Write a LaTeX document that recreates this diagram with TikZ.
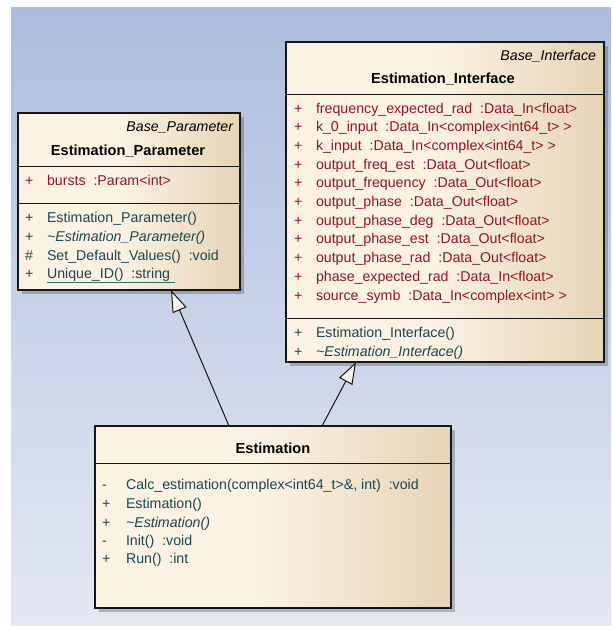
\documentclass[tikz,border=0pt]{standalone}
\usepackage{fontspec}
\setmainfont{Liberation Sans}
\usetikzlibrary{arrows.meta,shadows,calc}

\definecolor{bgtop}{RGB}{174,189,222}
\definecolor{bgbot}{RGB}{228,232,243}
\definecolor{boxL}{RGB}{251,242,228}
\definecolor{boxR}{RGB}{231,212,183}
\definecolor{attrred}{RGB}{150,22,32}
\definecolor{methteal}{RGB}{28,70,80}
\definecolor{ulgreen}{RGB}{45,112,98}
\definecolor{edgecol}{RGB}{22,22,22}
\definecolor{tipfill}{RGB}{250,246,238}

% light cream over most of the width, warming to tan at the right edge
\pgfdeclarehorizontalshading{classfill}{100bp}{%
  color(0bp)=(boxL); color(25bp)=(boxL); color(48bp)=(boxL);
  color(75bp)=(boxR); color(100bp)=(boxR)}

\tikzset{
  classbox/.style={draw=edgecol, line width=1.3pt, shading=classfill,
    inner sep=0pt, outer sep=0pt,
    drop shadow={shadow xshift=4pt, shadow yshift=-4pt, fill=black, opacity=0.22}},
  divider/.style={draw=edgecol, line width=1pt},
  txt/.style={inner sep=0pt, outer sep=0pt, font=\fontsize{14.2}{16}\selectfont},
  attr/.style={txt, anchor=base west, text=attrred},
  meth/.style={txt, anchor=base west, text=methteal},
  title/.style={txt, anchor=base, font=\fontsize{14.6}{16}\selectfont\bfseries},
  stereo/.style={txt, anchor=base east, font=\fontsize{14.2}{16}\selectfont\itshape},
  gen/.style={draw=edgecol, line width=1pt,
    -{Triangle[length=22pt, width=15pt, fill=tipfill, line width=1pt]}}
}

\begin{document}
\begin{tikzpicture}[x=1pt, y=-1pt]
  \useasboundingbox (0,0) rectangle (611,626);
  \fill[white] (0,0) rectangle (611,626);
  % diagram canvas
  \shade[top color=bgtop, bottom color=bgbot] (11,8) rectangle (611,626);

  % ---------- Estimation_Parameter ----------
  \node[classbox, minimum width=222pt, minimum height=177pt] (param) at (129,201.5) {};
  \draw[divider] ($(param.north west)+(0,53)$) -- ($(param.north east)+(0,53)$);
  \draw[divider] ($(param.north west)+(0,90)$) -- ($(param.north east)+(0,90)$);
  \node[stereo] (pst) at (233,131) {Base\_Parameter};
  \node[title] (pti) at (128,155) {Estimation\_Parameter};
  \node[attr] (pam1) at (25,185) {+};
  \node[attr] (pa1) at (47,185) {bursts\ \ :Param<int>};
  \node[meth] (pmm1) at (25,222) {+};
  \node[meth] (pm1) at (47,222) {Estimation\_Parameter()};
  \node[meth] (pmm2) at (25,241) {+};
  \node[meth] (pm2) at (47,241) {\itshape\textasciitilde Estimation\_Parameter()};
  \node[meth] (pmm3) at (25,260) {\#};
  \node[meth] (pm3) at (47,260) {Set\_Default\_Values()\ \ :void};
  \node[meth] (pmm4) at (25,278) {+};
  \node[meth] (pm4) at (47,278) {Unique\_ID()\ \ :string};
  \draw[ulgreen, line width=1pt] ($(pm4.base west)+(0,4.5)$) -- ($(pm4.base east)+(5,4.5)$);

  % ---------- Estimation_Interface ----------
  \node[classbox, minimum width=318pt, minimum height=320pt] (iface) at (445,202) {};
  \draw[divider] ($(iface.north west)+(0,52)$) -- ($(iface.north east)+(0,52)$);
  \draw[divider] ($(iface.north west)+(0,276)$) -- ($(iface.north east)+(0,276)$);
  \node[stereo] (ist) at (596,60) {Base\_Interface};
  \node[title] (iti) at (443,83) {Estimation\_Interface};
  \foreach \t [count=\i from 0] in {
      {frequency\_expected\_rad\ \ :Data\_In<float>},
      {k\_0\_input\ \ :Data\_In<complex<int64\_t> >},
      {k\_input\ \ :Data\_In<complex<int64\_t> >},
      {output\_freq\_est\ \ :Data\_Out<float>},
      {output\_frequency\ \ :Data\_Out<float>},
      {output\_phase\ \ :Data\_Out<float>},
      {output\_phase\_deg\ \ :Data\_Out<float>},
      {output\_phase\_est\ \ :Data\_Out<float>},
      {output\_phase\_rad\ \ :Data\_Out<float>},
      {phase\_expected\_rad\ \ :Data\_In<float>},
      {source\_symb\ \ :Data\_In<complex<int> >}} {
    \node[attr] (iam\i) at (294,113+18.7*\i) {+};
    \node[attr] (ia\i) at (316,113+18.7*\i) {\t};
  }
  \node[meth] (imm1) at (294,337) {+};
  \node[meth] (im1) at (316,337) {Estimation\_Interface()};
  \node[meth] (imm2) at (294,356) {+};
  \node[meth] (im2) at (316,356) {\itshape\textasciitilde Estimation\_Interface()};

  % ---------- Estimation ----------
  \node[classbox, minimum width=356pt, minimum height=182pt] (est) at (273,517) {};
  \draw[divider] ($(est.north west)+(0,37)$) -- ($(est.north east)+(0,37)$);
  \node[title] (eti) at (273,453) {Estimation};
  \node[meth] (emm1) at (102,489) {-};
  \node[meth] (em1) at (126,489) {Calc\_estimation(complex<int64\_t>\&, int)\ \ :void};
  \node[meth] (emm2) at (102,508) {+};
  \node[meth] (em2) at (126,508) {Estimation()};
  \node[meth] (emm3) at (102,527) {+};
  \node[meth] (em3) at (126,527) {\itshape\textasciitilde Estimation()};
  \node[meth] (emm4) at (102,545) {-};
  \node[meth] (em4) at (126,545) {Init()\ \ :void};
  \node[meth] (emm5) at (102,563) {+};
  \node[meth] (em5) at (126,563) {Run()\ \ :int};

  % ---------- generalizations ----------
  \draw[gen] ($(est.north)+(-44,0)$) -- ($(param.south)+(42,0)$);
  \draw[gen] ($(est.north)+(49,0)$) -- ($(iface.south)+(-89,0)$);
\end{tikzpicture}
\end{document}
